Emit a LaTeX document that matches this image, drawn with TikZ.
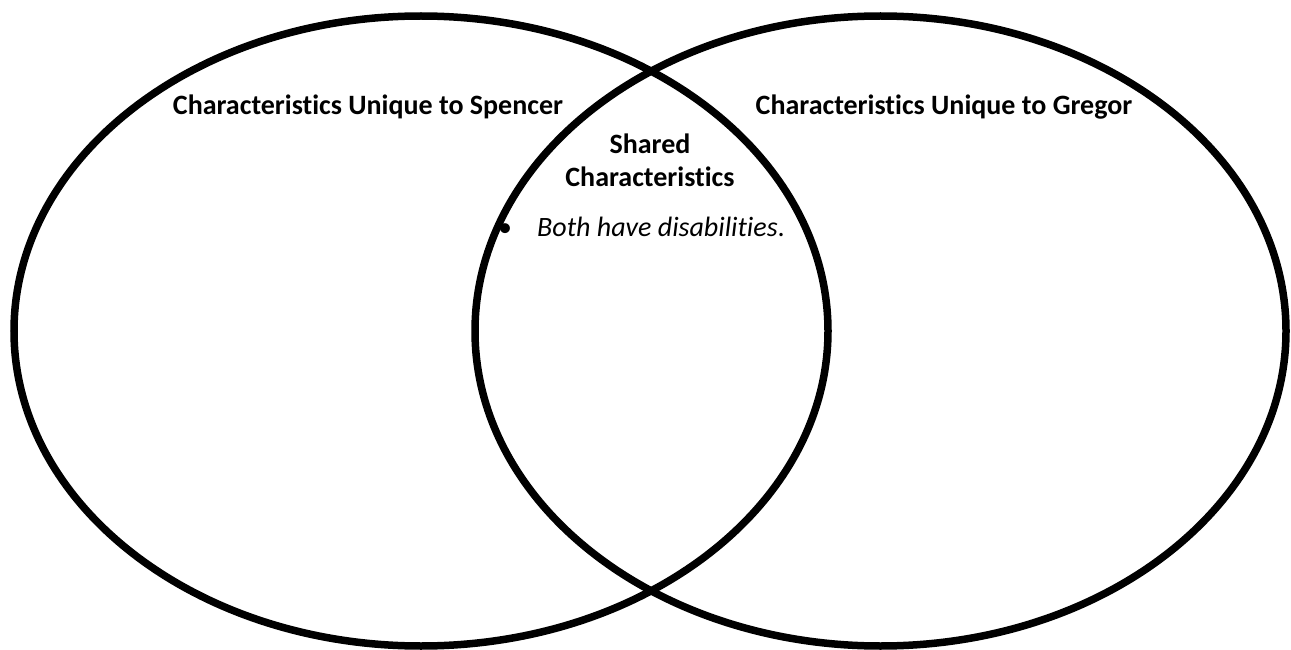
\documentclass[tikz,border=0pt]{standalone}
\usepackage{fontspec}
\setmainfont{Carlito}[Ligatures=NoCommon]
\begin{document}
\begin{tikzpicture}[x=1pt,y=-1pt,
  ring/.style={draw=black,line width=7.5pt},
  title/.style={font=\fontsize{28}{33}\selectfont\bfseries,inner sep=0pt,align=center,anchor=base},
  item/.style={font=\fontsize{28}{33}\selectfont,inner sep=0pt,anchor=base}]
\useasboundingbox (0,0) rectangle (1291,650);
\fill[white] (0,0) rectangle (1291,650);
\clip (0,0) rectangle (1291,650);
\draw[ring] (421,331) ellipse [x radius=407, y radius=315];
\draw[ring] (880.5,331) ellipse [x radius=405.5, y radius=315];
\node[title] (spencer) at (368,115) {Characteristics Unique to Spencer};
\node[title] (gregor) at (944,115) {Characteristics Unique to Gregor};
\node[title] (shared) at (650,186) {Shared\\Characteristics};
\node[item] (bullet) at (505,236) {\textbullet};
\node[item,anchor=base west] (both) at (537,236) {\textit{Both have disabilities}.};
\end{tikzpicture}
\end{document}
